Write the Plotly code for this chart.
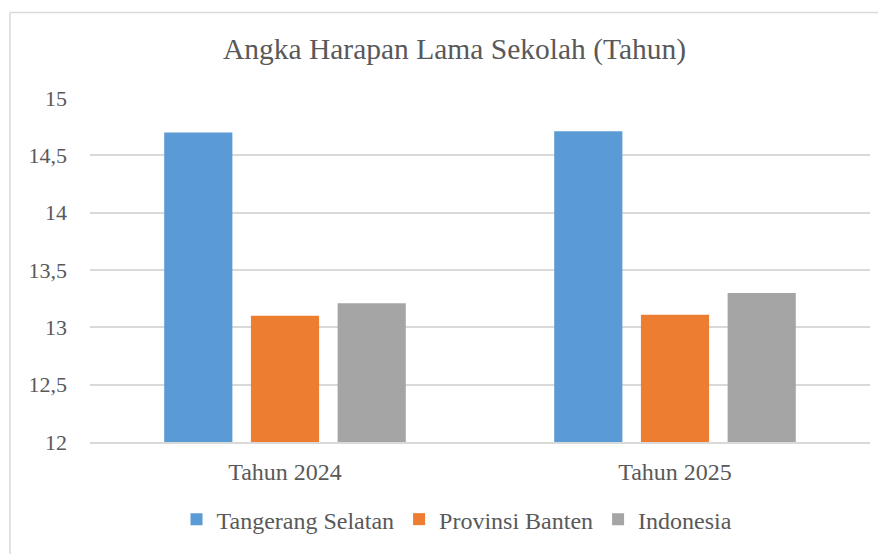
import plotly.graph_objects as go

categories = ["Tahun 2024", "Tahun 2025"]
series_names = ["Tangerang Selatan", "Provinsi Banten", "Indonesia"]
tangerang_selatan = [14.70, 14.71]
provinsi_banten = [13.10, 13.11]
indonesia = [13.21, 13.30]
y_ticks = [12, 12.5, 13, 13.5, 14, 14.5, 15]

colors = ["#5B9BD5", "#ED7D31", "#A5A5A5"]
values = [tangerang_selatan, provinsi_banten, indonesia]

FONT = "Liberation Serif"
fig = go.Figure()
for name, vals, c in zip(series_names, values, colors):
    fig.add_trace(go.Bar(x=categories, y=vals, name=name, marker=dict(color=c, line=dict(width=0))))

# page body has an 8px margin; work in reference pixels minus 8
OFF = 8
W, H = 886 - OFF, 554 - OFF
L, R, T = 90 - OFF, 16, 98 - OFF
PB = 444 - OFF
B = H - PB
PH = PB - T
PW = W - L - R

def px(x):
    return (x - OFF - L) / PW

def py(y):
    return (PB - (y - OFF)) / PH

fig.update_layout(
    width=W, height=H,
    margin=dict(l=L, r=R, t=T, b=B),
    paper_bgcolor="white", plot_bgcolor="white",
    separators=",.",
    barmode="group", bargap=0.333, bargroupgap=0.214,
    font=dict(family=FONT, color="#595959"),
    title=dict(text="Angka Harapan Lama Sekolah (Tahun)", x=((223 + 686) / 2 - OFF) / W, xanchor="center",
               y=1 - (49 - OFF) / H, yanchor="middle", yref="container",
               font=dict(size=29.5, family=FONT, color="#595959")),
    legend=dict(orientation="h", x=px(457), xanchor="center",
                y=py(522), yanchor="middle", font=dict(size=24, family=FONT, color="#595959"),
                itemwidth=30, tracegroupgap=0),
    xaxis=dict(showgrid=False, showline=True, linecolor="#d9d9d9", linewidth=1.5,
               tickfont=dict(size=24, family=FONT, color="#595959"), ticks="", ticklabelstandoff=7),
    yaxis=dict(range=[12, 15], tickvals=y_ticks, showgrid=True, gridcolor="#d9d9d9", gridwidth=1.5,
               zeroline=False, showline=False, ticks="", ticklabelstandoff=22,
               tickfont=dict(size=22, family=FONT, color="#595959")),
    shapes=[
        dict(type="line", xref="paper", yref="paper",
             x0=px(10), x1=px(900), y0=py(12), y1=py(12),
             line=dict(color="#d9d9d9", width=1.5)),
        dict(type="line", xref="paper", yref="paper",
             x0=px(10), x1=px(10), y0=py(12), y1=py(570),
             line=dict(color="#d9d9d9", width=1.5)),
    ],
)
fig.write_html("out.html")
